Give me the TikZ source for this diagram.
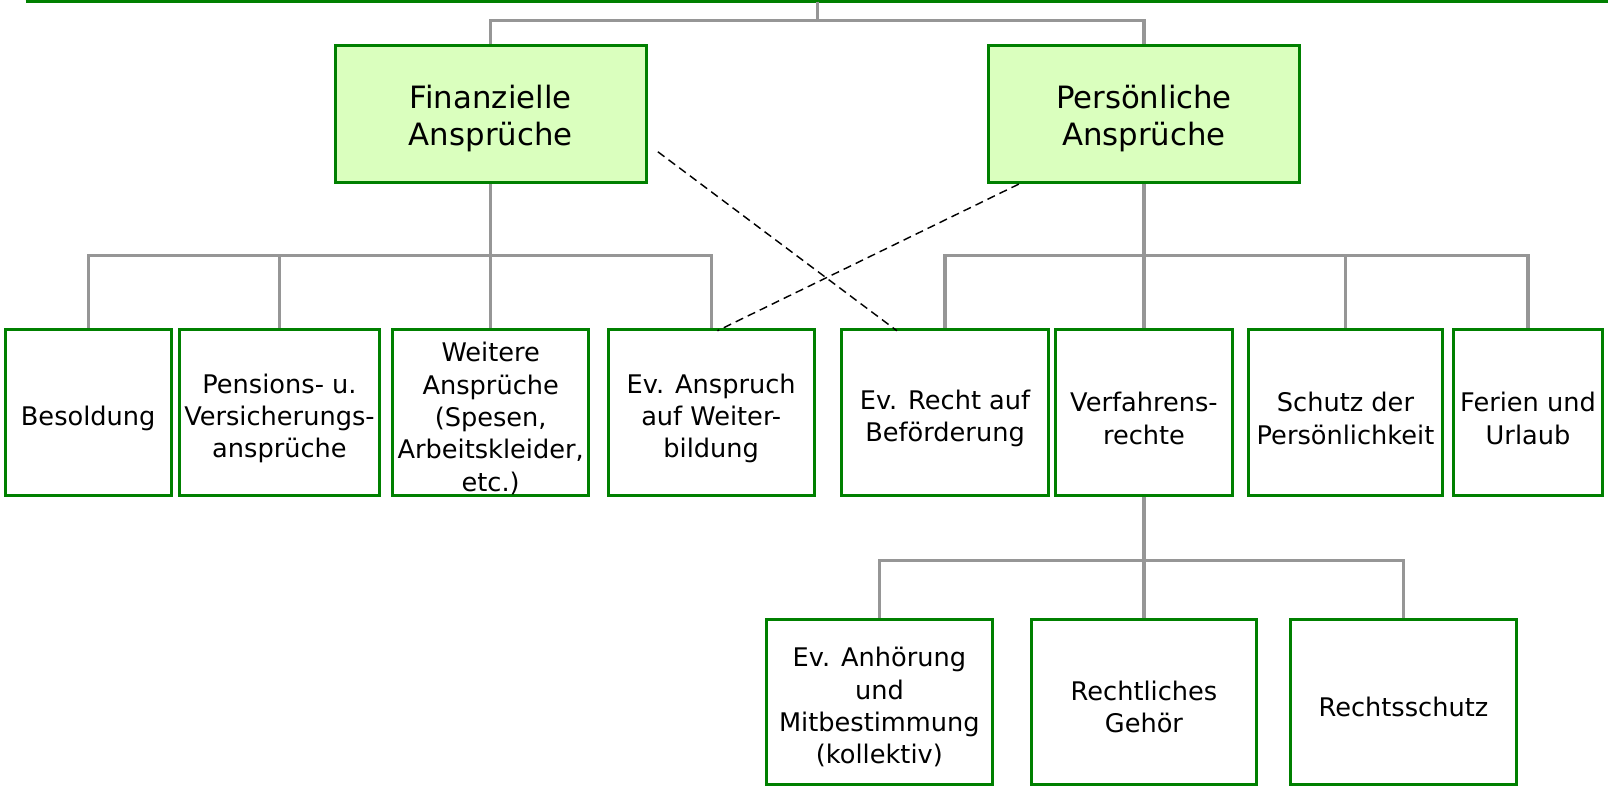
\documentclass[tikz,border=0pt]{standalone}
\usepackage{fontspec}
\setmainfont{DejaVu Sans}
\usetikzlibrary{calc}
\definecolor{boxgreen}{RGB}{0,128,0}
\definecolor{boxfill}{RGB}{218,255,190}
\definecolor{conngray}{RGB}{150,150,150}
\tikzset{
  box/.style={draw=boxgreen, line width=3pt, fill=white, inner sep=0pt},
  topbox/.style={box, fill=boxfill, minimum width=303pt, minimum height=134pt},
  rowbox/.style={box, minimum height=162pt},
  lowbox/.style={box, minimum height=161pt},
  txt/.style={align=center, inner sep=0pt, text=black,
    font=\fontsize{25pt}{31.5pt}\selectfont},
  bigtxt/.style={txt, font=\fontsize{30pt}{36pt}\selectfont},
  conn/.style={draw=conngray, line width=3pt},
  rootline/.style={draw=boxgreen, line width=3pt},
  dashconn/.style={draw=black, line width=1.4pt, dash pattern=on 8pt off 5pt},
}
\begin{document}
\begin{tikzpicture}[x=1pt,y=-1pt]
\useasboundingbox (0,0) rectangle (1568,769);
% cut-off root box bottom edge
\coordinate (rootL) at (25,1.5);
\coordinate (rootR) at (1570,1.5);
\coordinate (root) at (797,1.5);
\draw[rootline] (rootL) -- (rootR);

\node[topbox] (fin) at (478.5,111) {};
\node[topbox] (pers) at (1115.5,111) {};

\node[rowbox, minimum width=162pt] (bes) at (86,402) {};
\node[rowbox, minimum width=195pt] (pen) at (272.5,402) {};
\node[rowbox, minimum width=191pt] (wei) at (478.5,402) {};
\node[rowbox, minimum width=201pt] (eva) at (693.5,402) {};
\node[rowbox, minimum width=201pt] (evr) at (921.5,402) {};
\node[rowbox, minimum width=172pt] (ver) at (1115.5,402) {};
\node[rowbox, minimum width=190pt] (sch) at (1312,402) {};
\node[rowbox, minimum width=146pt] (fer) at (1490,402) {};

\node[lowbox, minimum width=221pt] (anh) at (857.5,684.5) {};
\node[lowbox, minimum width=220pt] (geh) at (1115.5,684.5) {};
\node[lowbox, minimum width=221pt] (rs) at (1368.5,684.5) {};

% texts
\node[bigtxt] (fin-t) at ([yshift=-5pt]fin.center) {Finanzielle\\Ansprüche};
\node[bigtxt] (pers-t) at ([yshift=-5pt]pers.center) {Persönliche\\Ansprüche};
\node[txt] (bes-t) at ([yshift=-6pt]bes.center) {Besoldung};
\node[txt] (pen-t) at ([yshift=-6pt]pen.center) {Pensions- u.\\Versicherungs-\\ansprüche};
\node[txt] (wei-t) at ([yshift=-6pt]wei.center) {Weitere\\Ansprüche\\(Spesen,\\Arbeitskleider,\\etc.)};
\node[txt] (eva-t) at ([yshift=-6pt]eva.center) {Ev. Anspruch\\auf Weiter-\\bildung};
\node[txt] (evr-t) at ([yshift=-6pt]evr.center) {Ev. Recht auf\\Beförderung};
\node[txt] (ver-t) at ([yshift=-6pt]ver.center) {Verfahrens-\\rechte};
\node[txt] (sch-t) at ([yshift=-6pt]sch.center) {Schutz der\\Persönlichkeit};
\node[txt] (fer-t) at ([yshift=-6pt]fer.center) {Ferien und\\Urlaub};
\node[txt] (anh-t) at ([yshift=-5pt]anh.center) {Ev. Anhörung\\und\\Mitbestimmung\\(kollektiv)};
\node[txt] (geh-t) at ([yshift=-5pt]geh.center) {Rechtliches\\Gehör};
\node[txt] (rs-t) at ([yshift=-5pt]rs.center) {Rechtsschutz};

% connectors
\draw[conn] (root) -- ++(0,18.5) -| (fin.north);
\draw[conn] (root) -- ++(0,18.5) -| (pers.north);

\foreach \c in {bes,pen,wei,eva}
  \draw[conn] (fin.south) -- ++(0,70) -| (\c.north);
\foreach \c in {evr,ver,sch,fer}
  \draw[conn] (pers.south) -- ++(0,70) -| (\c.north);
\foreach \c in {anh,geh,rs}
  \draw[conn] (ver.south) -- ++(0,62) -| (\c.north);

% dashed cross links
\coordinate (d1) at ($(fin.east)+(10,37)$);
\draw[dashconn] (d1) -- ($(evr.north west)!0.27!(evr.north east)+(0,3)$);
\draw[dashconn] ($(pers.south west)+(31,0)$) -- ($(eva.north west)!0.53!(eva.north east)+(0,3)$);
\end{tikzpicture}
\end{document}
